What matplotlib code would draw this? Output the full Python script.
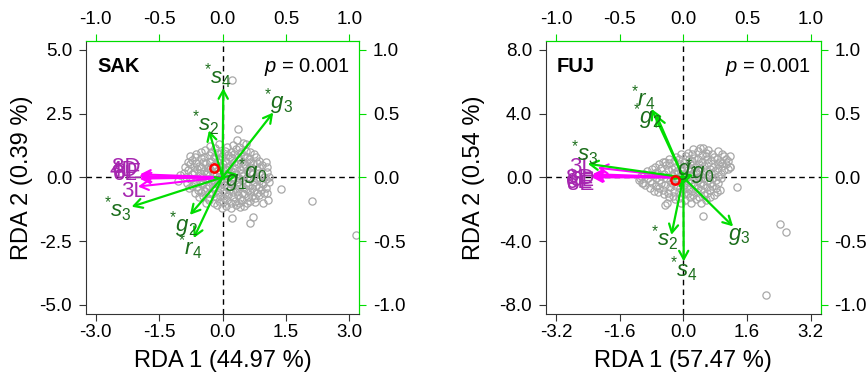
import matplotlib
matplotlib.use('Agg')
import matplotlib.pyplot as plt
from matplotlib.ticker import FormatStrFormatter, FixedLocator

plt.rcParams['font.family'] = ['Liberation Sans', 'DejaVu Sans']
plt.rcParams['mathtext.fontset'] = 'custom'
plt.rcParams['mathtext.rm'] = 'Liberation Sans'
plt.rcParams['mathtext.it'] = 'Liberation Sans:italic'
plt.rcParams['mathtext.bf'] = 'Liberation Sans:bold'
plt.rcParams['axes.unicode_minus'] = False

# ---------------- SAK data ----------------
sak_site_x = [-0.08, 0.24, 0.48,
              -0.42, -0.18, 0.06, 0.31, 0.56,
              -0.62, -0.33, -0.14, 0.12, 0.28, 0.52, 0.74,
              -0.72, -0.51, -0.28, -0.09, 0.07, 0.22, 0.41, 0.62, 0.86,
              -0.77, -0.56, -0.38, -0.21, 0.02, 0.16, 0.36, 0.54, 0.71, 0.94,
              -0.82, -0.61, -0.44, -0.29, -0.11, 0.06, 0.21, 0.42, 0.58, 0.81,
              -0.72, -0.49, -0.36, -0.16, 0.01, 0.17, 0.31, 0.49, 0.69, 0.91,
              -0.76, -0.54, -0.41, -0.19, -0.04, 0.11, 0.26, 0.46, 0.64, 0.86, 1.02,
              -0.71, -0.49, -0.31, -0.14, 0.04, 0.21, 0.39, 0.61, 0.79, 0.96,
              -0.58, -0.41, -0.19, 0.01, 0.16, 0.34, 0.56, 0.74, 0.91,
              -0.46, -0.24, -0.06, 0.14, 0.36, 0.51, 0.69, 0.86,
              -0.31, -0.09, 0.11, 0.29, 0.46, 0.66,
              -0.14, 0.09, 0.31, 0.52,
              0.22, 0.37, 1.09, 1.38, 2.11, 3.16, 0.65, 0.72, 0.22, 0.97, 1.08,
              1.05, -1.00, -1.05, -0.77, 0.35, 0.55]
sak_site_y = [1.32, 1.26, 1.35,
              1.08, 1.15, 1.05, 1.12, 1.02,
              0.92, 0.86, 0.95, 0.88, 0.93, 0.85, 0.90,
              0.68, 0.74, 0.66, 0.72, 0.65, 0.75, 0.68, 0.73, 0.66,
              0.52, 0.46, 0.55, 0.48, 0.53, 0.45, 0.51, 0.47, 0.55, 0.49,
              0.28, 0.33, 0.26, 0.34, 0.27, 0.32, 0.25, 0.31, 0.27, 0.33,
              0.12, 0.07, 0.13, 0.06, 0.11, 0.08, 0.14, 0.07, 0.12, 0.09,
              -0.08, -0.13, -0.07, -0.12, -0.09, -0.14, -0.07, -0.11, -0.06, -0.13, -0.08,
              -0.32, -0.27, -0.33, -0.28, -0.31, -0.26, -0.34, -0.29, -0.32, -0.27,
              -0.48, -0.53, -0.47, -0.52, -0.49, -0.54, -0.47, -0.53, -0.50,
              -0.72, -0.67, -0.73, -0.68, -0.71, -0.66, -0.74, -0.69,
              -0.88, -0.93, -0.87, -0.92, -0.89, -0.94,
              -1.08, -1.13, -1.07, -1.12,
              3.82, 1.90, 0.03, -0.45, -0.92, -2.25, -1.78, -1.55, -1.60, -1.01, -0.88,
              -0.62, 0.10, -0.16, 0.82, 1.45, 1.30]
sak_site2_x = [0.10, 0.38, -0.30,
               -0.52, -0.27, -0.03, 0.19, 0.43, 0.66,
               -0.66, -0.44, -0.21, -0.02, 0.17, 0.36, 0.57, 0.79,
               -0.82, -0.63, -0.45, -0.30, -0.13, 0.09, 0.27, 0.46, 0.64, 0.82, 1.02,
               -0.88, -0.68, -0.50, -0.34, -0.18, -0.03, 0.11, 0.29, 0.48, 0.66, 0.87, 1.05,
               -0.90, -0.68, -0.53, -0.37, -0.22, -0.05, 0.12, 0.27, 0.46, 0.65, 0.86, 1.05,
               -0.86, -0.63, -0.46, -0.27, -0.09, 0.08, 0.23, 0.40, 0.58, 0.79, 0.98,
               -0.84, -0.64, -0.47, -0.26, -0.11, 0.04, 0.18, 0.35, 0.55, 0.74, 0.93, 1.10,
               -0.79, -0.60, -0.39, -0.23, -0.06, 0.12, 0.29, 0.49, 0.69, 0.87, 1.04,
               -0.66, -0.50, -0.31, -0.11, 0.07, 0.25, 0.45, 0.64, 0.82, 0.98,
               -0.55, -0.35, -0.16, 0.04, 0.24, 0.42, 0.60, 0.78,
               -0.40, -0.20, 0.00, 0.20, 0.38, 0.58, 0.78,
               -0.02, 0.20, 0.42]
sak_site2_y = [1.21, 1.19, 1.22,
               0.99, 1.01, 0.97, 1.00, 0.98, 1.01,
               0.79, 0.81, 0.78, 0.82, 0.79, 0.81, 0.78, 0.80,
               0.61, 0.58, 0.62, 0.59, 0.61, 0.58, 0.62, 0.59, 0.61, 0.58, 0.60,
               0.41, 0.39, 0.42, 0.38, 0.41, 0.39, 0.42, 0.38, 0.41, 0.39, 0.42, 0.40,
               0.19, 0.21, 0.18, 0.22, 0.19, 0.21, 0.18, 0.22, 0.19, 0.21, 0.18, 0.20,
               0.01, -0.02, 0.02, -0.01, 0.02, -0.02, 0.01, -0.01, 0.02, -0.02, 0.01,
               -0.21, -0.19, -0.22, -0.18, -0.21, -0.19, -0.22, -0.18, -0.21, -0.19, -0.22, -0.20,
               -0.41, -0.39, -0.42, -0.38, -0.41, -0.39, -0.42, -0.38, -0.41, -0.39, -0.42,
               -0.61, -0.59, -0.62, -0.58, -0.61, -0.59, -0.62, -0.58, -0.61, -0.60,
               -0.79, -0.81, -0.78, -0.82, -0.79, -0.81, -0.78, -0.80,
               -0.99, -1.01, -0.98, -1.02, -0.99, -1.01, -0.98,
               -1.19, -1.21, -1.18]
sak_centroid = (-0.19, 0.38)

sak_env_names = ['s4', 'g3', 's2', 'g0', 'g1', 's3', 'g2', 'r4']
sak_env_star = [True, True, True, True, False, True, True, True]
sak_env_x = [0.02, 1.20, -0.32, 0.37, 0.08, -2.15, -0.77, -0.68]
sak_env_y = [3.50, 2.54, 1.84, 0.12, -0.10, -1.15, -1.47, -2.38]
sak_env_lab_x = [-0.11, 1.32, -0.39, 0.72, 0.32, -2.47, -0.93, -0.77]
sak_env_lab_y = [3.95, 2.97, 2.14, 0.23, -0.22, -1.27, -1.86, -2.76]

sak_fac_names = ['8D', '4D', '8E', '6L', '3L']
sak_fac_x = [-1.95, -1.97, -1.93, -1.96, -2.00]
sak_fac_y = [0.12, 0.05, 0.00, -0.05, -0.36]
sak_fac_lab_x = [-2.27, -2.33, -2.25, -2.30, -2.10]
sak_fac_lab_y = [0.40, 0.28, 0.18, 0.12, -0.56]

# ---------------- FUJ data ----------------
fuj_site_x = [0.12, 0.37, 0.58, 0.86,
              -0.18, 0.07, 0.28, 0.57, 0.78, 1.02,
              -0.52, -0.23, 0.02, 0.21, 0.47, 0.69, 0.91, 1.12,
              -0.72, -0.43, -0.21, 0.06, 0.29, 0.52, 0.74, 0.97, 1.16,
              -0.91, -0.66, -0.38, -0.16, 0.11, 0.31, 0.56, 0.79, 1.02,
              -1.06, -0.79, -0.56, -0.29, -0.09, 0.16, 0.39, 0.61, 0.86,
              -1.12, -0.84, -0.61, -0.34, -0.11, 0.12, 0.36, 0.59, 0.81,
              -0.96, -0.69, -0.46, -0.19, 0.01, 0.26, 0.49, 0.71,
              -0.74, -0.51, -0.24, 0.01, 0.21, 0.44, 0.66, 0.91,
              -0.49, -0.26, 0.02, 0.24, 0.51, 0.76,
              -0.21, 0.04, 0.31, 0.56,
              2.44, 2.59, 2.07, -0.40, -0.47, 0.49, 1.16, 1.16, 0.96, 0.41,
              0.62, -1.01, -0.47, 1.35]
fuj_site_y = [1.55, 1.68, 1.52, 1.64,
              1.26, 1.36, 1.24, 1.33, 1.27, 1.35,
              0.96, 1.05, 0.94, 1.04, 0.97, 1.06, 0.95, 1.02,
              0.66, 0.75, 0.64, 0.73, 0.67, 0.74, 0.65, 0.72, 0.68,
              0.43, 0.36, 0.45, 0.37, 0.44, 0.35, 0.42, 0.38, 0.45,
              0.07, 0.14, 0.06, 0.13, 0.08, 0.12, 0.05, 0.14, 0.09,
              -0.17, -0.24, -0.16, -0.23, -0.18, -0.25, -0.17, -0.22, -0.19,
              -0.47, -0.54, -0.46, -0.53, -0.48, -0.55, -0.47, -0.52,
              -0.84, -0.77, -0.83, -0.76, -0.85, -0.78, -0.82, -0.79,
              -1.07, -1.14, -1.06, -1.13, -1.08, -1.12,
              -1.38, -1.44, -1.37, -1.43,
              -2.94, -3.46, -7.41, -1.62, -1.73, -2.42, 1.31, 0.68, 0.89, 1.83,
              1.73, -0.36, 0.99, -0.60]
fuj_site2_x = [0.25, 0.50,
               -0.05, 0.22, 0.47, 0.72, 0.96,
               -0.37, -0.10, 0.14, 0.38, 0.60, 0.84, 1.06,
               -0.62, -0.35, -0.08, 0.17, 0.40, 0.63, 0.86, 1.08,
               -0.80, -0.55, -0.29, -0.05, 0.19, 0.42, 0.66, 0.88, 1.12,
               -0.98, -0.72, -0.48, -0.24, 0.00, 0.23, 0.47, 0.70, 0.94,
               -1.10, -0.90, -0.68, -0.44, -0.20, 0.03, 0.26, 0.49, 0.72, 0.95,
               -1.05, -0.80, -0.55, -0.29, -0.06, 0.18, 0.42, 0.66, 0.88,
               -0.85, -0.60, -0.34, -0.09, 0.13, 0.37, 0.60, 0.82,
               -0.63, -0.38, -0.12, 0.12, 0.35, 0.59, 0.84,
               -0.35, -0.10, 0.16, 0.40, 0.66,
               -0.05, 0.20, 0.45]
fuj_site2_y = [1.78, 1.82,
               1.44, 1.47, 1.43, 1.46, 1.48,
               1.14, 1.17, 1.13, 1.16, 1.14, 1.17, 1.15,
               0.84, 0.87, 0.83, 0.86, 0.84, 0.87, 0.83, 0.86,
               0.54, 0.57, 0.53, 0.56, 0.54, 0.57, 0.53, 0.56, 0.55,
               0.24, 0.27, 0.23, 0.26, 0.24, 0.27, 0.23, 0.26, 0.24,
               -0.04, -0.07, -0.03, -0.06, -0.04, -0.07, -0.03, -0.06, -0.04, -0.06,
               -0.34, -0.37, -0.33, -0.36, -0.34, -0.37, -0.33, -0.36, -0.34,
               -0.64, -0.67, -0.63, -0.66, -0.64, -0.67, -0.63, -0.66,
               -0.94, -0.97, -0.93, -0.96, -0.94, -0.97, -0.95,
               -1.24, -1.27, -1.23, -1.26, -1.24,
               -1.58, -1.62, -1.59]
fuj_centroid = (-0.22, -0.16)

fuj_env_names = ['r4', 'g2', 's3', 'g1', 'g0', 's2', 's4', 'g3']
fuj_env_star = [True, True, True, False, True, True, True, False]
fuj_env_x = [-0.80, -0.68, -2.40, 0.05, 0.25, -0.30, 0.01, 1.25]
fuj_env_y = [4.30, 3.92, 0.85, 0.10, 0.15, -3.61, -5.28, -3.08]
fuj_env_lab_x = [-1.00, -0.89, -2.48, 0.11, 0.41, -0.45, 0.01, 1.41]
fuj_env_lab_y = [4.97, 3.81, 1.52, 0.36, 0.36, -3.82, -5.80, -3.71]

fuj_fac_names = ['8D', '6E', '8E', '6L', '3L']
fuj_fac_x = [-2.28, -2.30, -2.26, -2.29, -2.15]
fuj_fac_y = [0.20, 0.10, 0.05, 0.00, 0.60]
fuj_fac_lab_x = [-2.60, -2.62, -2.58, -2.55, -2.56]
fuj_fac_lab_y = [-0.10, -0.30, -0.45, -0.20, 0.62]

# ---------------- styling ----------------
GREEN = '#00DD00'
DKGREEN = '#1B6E1B'
MAG = '#FF00FF'
DKMAG = '#A626B0'
GRAY = '#A8A8A8'
AXC = '#333333'

W, H = 866, 378
fig = plt.figure(figsize=(W / 100, H / 100), dpi=100)


def panel(left_px, right_px, xlim, ylim, xticks, yticks, xratio, yratio,
          sx, sy, cen, en, es, ex, ey, elx, ely, fn, fx, fy, flx, fly,
          title, xlab, ylab, ylab_x):
    top_px, bot_px = 40.7, 314
    ax = fig.add_axes([left_px / W, (H - bot_px) / H,
                       (right_px - left_px) / W, (bot_px - top_px) / H])
    ax.set_xlim(*xlim)
    ax.set_ylim(*ylim)
    ax.axhline(0, color='black', ls=(0, (4, 3)), lw=1, zorder=1)
    ax.axvline(0, color='black', ls=(0, (4, 3)), lw=1, zorder=1)
    ax.plot(sx, sy, 'o', mfc='none', mec=GRAY, ms=5.2, mew=0.9, zorder=2)
    for x, y in zip(fx, fy):
        ax.annotate('', xy=(x, y), xytext=(0, 0), zorder=3,
                    arrowprops=dict(arrowstyle='->,head_length=0.6,head_width=0.33',
                                    color=MAG, lw=1.5, shrinkA=0, shrinkB=0))
    for x, y in zip(ex, ey):
        ax.annotate('', xy=(x, y), xytext=(0, 0), zorder=4,
                    arrowprops=dict(arrowstyle='->,head_length=0.6,head_width=0.33',
                                    color=GREEN, lw=1.6, shrinkA=0, shrinkB=0))
    for n, x, y in zip(fn, flx, fly):
        ax.text(x, y, n, color=DKMAG, fontsize=16, ha='center', va='center', zorder=5)
    for n, s, x, y in zip(en, es, elx, ely):
        lab = r'${}^{*}\mathit{%s}_{%s}$' % (n[0], n[1]) if s else r'$\mathit{%s}_{%s}$' % (n[0], n[1])
        ax.text(x, y, lab, color=DKGREEN, fontsize=16, ha='center', va='center', zorder=5)
    ax.plot([cen[0]], [cen[1]], 'o', mfc='none', mec='red', ms=6, mew=1.8, zorder=6)

    ax.set_xticks(xticks)
    ax.set_yticks(yticks)
    ax.xaxis.set_major_formatter(FormatStrFormatter('%.1f'))
    ax.yaxis.set_major_formatter(FormatStrFormatter('%.1f'))
    ax.tick_params(axis='x', labelsize=13.5, length=5, color=AXC, pad=2)
    ax.tick_params(axis='y', labelsize=13.5, length=5, color=AXC, pad=5)
    for s in ('left', 'bottom'):
        ax.spines[s].set_color(AXC)
    for s in ('top', 'right'):
        ax.spines[s].set_color(GREEN)

    secx = ax.secondary_xaxis('top', functions=(lambda v: v / xratio, lambda v: v * xratio))
    secx.xaxis.set_major_locator(FixedLocator([-1.0, -0.5, 0.0, 0.5, 1.0]))
    secx.xaxis.set_major_formatter(FormatStrFormatter('%.1f'))
    secx.tick_params(labelsize=13.5, length=5, color=GREEN, labelcolor='black', pad=4)
    secx.spines['top'].set_color(GREEN)
    secy = ax.secondary_yaxis('right', functions=(lambda v: v / yratio, lambda v: v * yratio))
    secy.yaxis.set_major_locator(FixedLocator([-1.0, -0.5, 0.0, 0.5, 1.0]))
    secy.yaxis.set_major_formatter(FormatStrFormatter('%.1f'))
    secy.tick_params(labelsize=13.5, length=5, color=GREEN, labelcolor='black', pad=5)
    secy.spines['right'].set_color(GREEN)

    ax.text(0.04, 0.905, title, transform=ax.transAxes, fontsize=14.5,
            fontweight='bold', ha='left', va='center')
    ax.text(0.965, 0.905, r'$\mathit{p}$ = 0.001', transform=ax.transAxes,
            fontsize=14.5, ha='right', va='center')
    fig.text((left_px + right_px) / 2 / W, 1 - 361.5 / H, xlab, fontsize=17,
             ha='center', va='center')
    fig.text(ylab_x / W, 1 - 177.4 / H, ylab, fontsize=17, rotation=90,
             ha='center', va='center')
    return ax


panel(86, 359, (-3.23, 3.23), (-5.36, 5.36), [-3.0, -1.5, 0.0, 1.5, 3.0],
      [-5.0, -2.5, 0.0, 2.5, 5.0], 3.0, 5.0,
      sak_site_x + sak_site2_x, sak_site_y + sak_site2_y, sak_centroid,
      sak_env_names, sak_env_star, sak_env_x, sak_env_y, sak_env_lab_x, sak_env_lab_y,
      sak_fac_names, sak_fac_x, sak_fac_y, sak_fac_lab_x, sak_fac_lab_y,
      'SAK', 'RDA 1 (44.97 %)', 'RDA 2 (0.39 %)', 22)

panel(546, 820.7, (-3.45, 3.45), (-8.58, 8.58), [-3.2, -1.6, 0.0, 1.6, 3.2],
      [-8.0, -4.0, 0.0, 4.0, 8.0], 3.2, 8.0,
      fuj_site_x + fuj_site2_x, fuj_site_y + fuj_site2_y, fuj_centroid,
      fuj_env_names, fuj_env_star, fuj_env_x, fuj_env_y, fuj_env_lab_x, fuj_env_lab_y,
      fuj_fac_names, fuj_fac_x, fuj_fac_y, fuj_fac_lab_x, fuj_fac_lab_y,
      'FUJ', 'RDA 1 (57.47 %)', 'RDA 2 (0.54 %)', 474)

fig.savefig('out.png', dpi=100)
